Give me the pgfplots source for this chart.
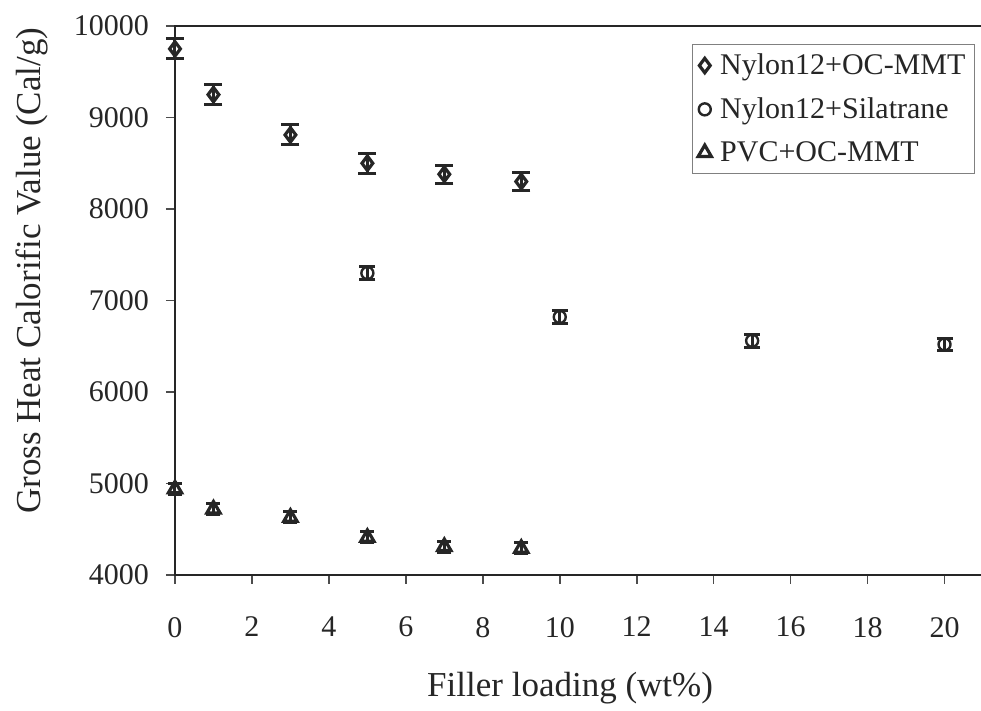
\documentclass[border=0pt]{standalone}
\usepackage{pgfplots}
\pgfplotsset{compat=1.18}
\usepackage{fontspec}
\setmainfont{Liberation Serif}
\begin{document}
\begin{tikzpicture}
\useasboundingbox (-87.5pt,-68pt) rectangle (403pt,287.5pt);
\begin{axis}[
  at={(0,0)}, anchor=south west,
  scale only axis,
  width=404pt, height=274.5pt,
  xmin=0, xmax=21, ymin=4000, ymax=10000,
  xtick={0,2,...,20}, ytick={4000,5000,...,10000},
  scaled y ticks=false, scaled x ticks=false,
  tick align=outside, major tick length=4.5pt,
  xtick pos=bottom, ytick pos=left,
  axis line style={line width=1.2pt, black!85},
  tick style={line width=0.8pt, black!70},
  /pgf/number format/assume math mode=true,
  /pgf/number format/1000 sep={},
  ticklabel style={font=\fontsize{15}{18}\selectfont, text=black!85},
  xticklabel style={yshift=-13pt},
  yticklabel style={xshift=-5pt},
  xlabel={Filler loading (wt\%)},
  ylabel={Gross Heat Calorific Value (Cal/g)},
  every axis x label/.style={at={(axis description cs:0.489,0)}, anchor=center, yshift=-56.5pt, font=\fontsize{17.5}{21}\selectfont, text=black!85},
  every axis y label/.style={at={(axis description cs:0,0.554)}, xshift=-71.5pt, rotate=90, anchor=center, font=\fontsize{17.5}{21}\selectfont, text=black!85},
  clip=false,
  legend style={at={(0.990,0.967)}, anchor=north east, draw=black!50, line width=0.5pt,
    font=\fontsize{15}{17}\selectfont, row sep=6pt, inner sep=2.5pt, text=black!85},
  legend cell align=left,
  legend image code/.code={\path[draw=none, fill=none] (0cm,0cm) -- (0.32cm,0cm); \draw[line width=1.3pt] plot coordinates {(0.12cm,0cm)};},
]
\addplot[only marks, black!85, mark=diamond, mark size=3.6pt, mark options={line width=1.6pt, fill=white},
  error bars/.cd, y dir=both, y explicit, error bar style={line width=1.5pt, black!85},
  error mark options={rotate=90, mark size=4.5pt, line width=1.5pt}]
  coordinates {
  (0,9750) +- (0,110)
  (1,9250) +- (0,110)
  (3,8810) +- (0,110)
  (5,8500) +- (0,110)
  (7,8380) +- (0,100)
  (9,8300) +- (0,100)
  };
\addlegendentry{Nylon12+OC-MMT}
\addplot[only marks, black!85, mark=o, mark size=3pt, mark options={line width=1.2pt},
  error bars/.cd, y dir=both, y explicit, error bar style={line width=1.5pt, black!85},
  error mark options={rotate=90, mark size=4pt, line width=1.5pt}]
  coordinates {
  (5,7300) +- (0,70)
  (10,6820) +- (0,70)
  (15,6560) +- (0,70)
  (20,6520) +- (0,70)
  };
\addlegendentry{Nylon12+Silatrane}
\addplot[only marks, black!85, mark=triangle, mark size=3.8pt, mark options={line width=1.6pt},
  error bars/.cd, y dir=both, y explicit, error bar style={line width=1.5pt, black!85},
  error mark options={rotate=90, mark size=3.5pt, line width=1.5pt}]
  coordinates {
  (0,4940) +- (0,60)
  (1,4720) +- (0,60)
  (3,4630) +- (0,60)
  (5,4410) +- (0,60)
  (7,4310) +- (0,60)
  (9,4290) +- (0,60)
  };
\addlegendentry{PVC+OC-MMT}
\end{axis}
\end{tikzpicture}
\end{document}
